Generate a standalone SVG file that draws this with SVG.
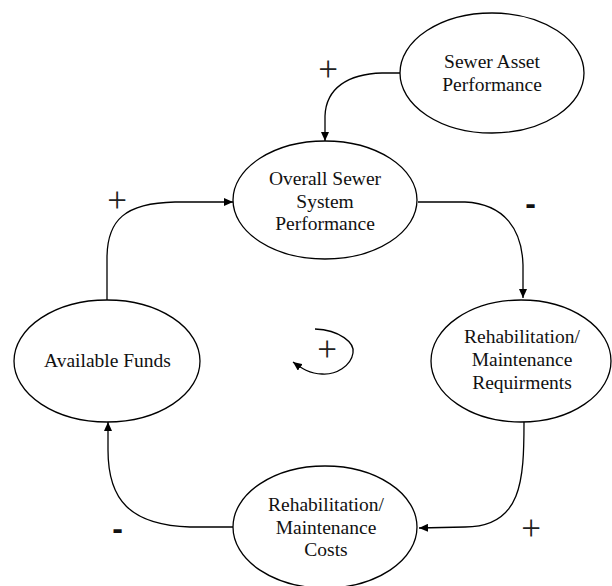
<svg xmlns="http://www.w3.org/2000/svg" width="612" height="586" viewBox="0 0 612 586">
<style>
.node ellipse{fill:#fff;stroke:#000;stroke-width:1.3}
.lbl{font-family:"Liberation Serif","Times New Roman",serif;font-size:19.5px;fill:#111;text-anchor:middle}
.conn path{fill:none;stroke:#000;stroke-width:1.3}
.plus{font-family:"Liberation Serif","Times New Roman",serif;font-size:35px;fill:#222;text-anchor:middle}
.minus{font-family:"Liberation Sans",Arial,sans-serif;font-size:32px;font-weight:bold;fill:#111;text-anchor:middle}
</style>
<defs>
<marker id="arr" viewBox="0 0 9 8" refX="9" refY="4" markerWidth="9" markerHeight="8" markerUnits="userSpaceOnUse" orient="auto">
<path d="M0,0 L9,4 L0,8 z" fill="#000"/>
</marker>
</defs>
<rect width="612" height="586" fill="#fff"/>
<g id="connectors" class="conn">
<path d="M400,73 L382,73 C348,74 326,88 325,116 L325,141" marker-end="url(#arr)"/>
<path d="M418,202 L465,202 C505,204 522,230 523,265 L523,298" marker-end="url(#arr)"/>
<path d="M524,422 C524,480 522,527 465,527 L419,528" marker-end="url(#arr)"/>
<path d="M233,527 L190,527 C130,525 108,500 108,450 L108,422" marker-end="url(#arr)"/>
<path d="M107,300 L107,258 C107,220 125,203 175,202 L233,202" marker-end="url(#arr)"/>
<path d="M315,329 C340,330 355,343 353,353 C351,366 336,375 322,374 C310,374 301,368 293,362" marker-end="url(#arr)"/>
</g>
<g id="sewer-asset" class="node">
<ellipse cx="492" cy="73" rx="92" ry="60"/>
<text class="lbl" x="492" y="68">Sewer Asset</text>
<text class="lbl" x="492" y="91">Performance</text>
</g>
<g id="overall" class="node">
<ellipse cx="325" cy="200" rx="92" ry="59"/>
<text class="lbl" x="325" y="185">Overall Sewer</text>
<text class="lbl" x="325" y="207.5">System</text>
<text class="lbl" x="325" y="230">Performance</text>
</g>
<g id="requirements" class="node">
<ellipse cx="521" cy="361" rx="90" ry="61"/>
<text class="lbl" x="522" y="343">Rehabilitation/</text>
<text class="lbl" x="522" y="366">Maintenance</text>
<text class="lbl" x="522" y="389">Requirments</text>
</g>
<g id="costs" class="node">
<ellipse cx="325" cy="527" rx="92" ry="61"/>
<text class="lbl" x="326" y="511">Rehabilitation/</text>
<text class="lbl" x="326" y="534">Maintenance</text>
<text class="lbl" x="326" y="556">Costs</text>
</g>
<g id="funds" class="node">
<ellipse cx="107" cy="361" rx="93" ry="61"/>
<text class="lbl" x="107.5" y="367">Available Funds</text>
</g>
<g id="polarity">
<text class="plus" x="328" y="81">+</text>
<text class="plus" x="117" y="211.5">+</text>
<text class="plus" x="531" y="540">+</text>
<text class="plus" x="327" y="361">+</text>
<text class="minus" x="530.5" y="213.5">-</text>
<text class="minus" x="117.5" y="538.5">-</text>
</g>
</svg>
